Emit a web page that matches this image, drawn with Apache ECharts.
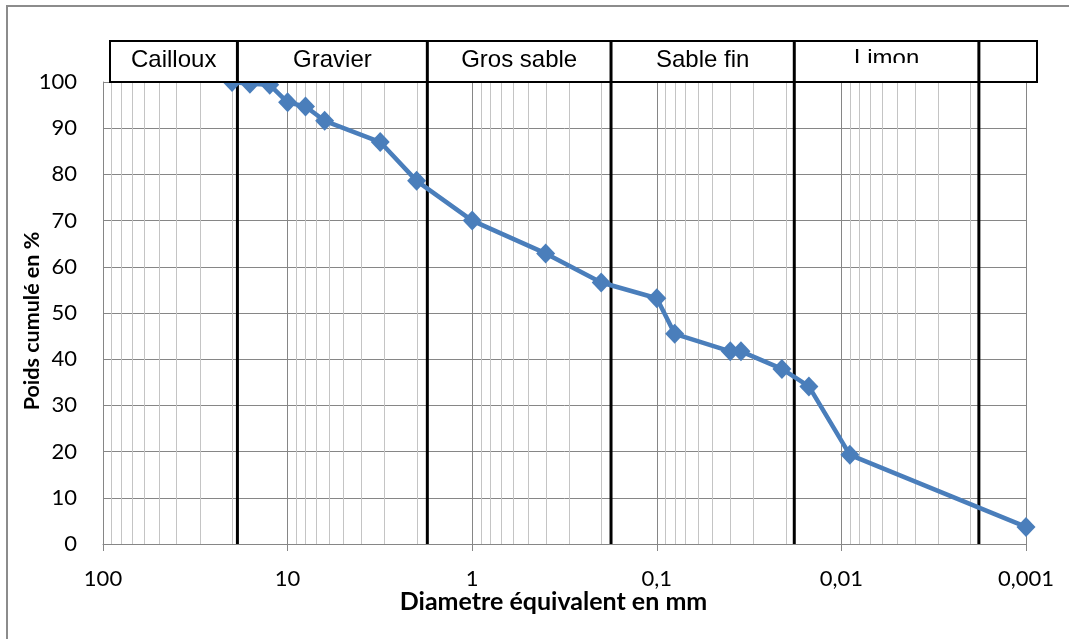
<!DOCTYPE html>
<html>
<head>
<meta charset="utf-8">
<script src="https://cdn.jsdelivr.net/npm/echarts@6/dist/echarts.min.js"></script>
<style>
  html, body { margin: 0; padding: 0; background: #ffffff; }
  #chart { width: 1069px; height: 639px; }
</style>
</head>
<body>
<div id="chart"></div>
<script>
// Grain-size curve: equivalent diameter (mm) vs cumulative weight (%)
const diameters = [20, 16, 12.5, 10, 8, 6.3, 3.15, 2, 1, 0.4, 0.2, 0.1, 0.08, 0.04, 0.035, 0.021, 0.015, 0.009, 0.001];
const cumulative = [100, 99.6, 99.4, 95.6, 94.7, 91.6, 87.0, 78.6, 70.0, 62.9, 56.6, 53.2, 45.5, 41.7, 41.7, 37.9, 34.1, 19.3, 3.7];

// Soil classes and the diameters separating them (mm)
const classNames = ['Cailloux', 'Gravier', 'Gros sable', 'Sable fin', 'Limon', ''];
const classBounds = [18.7, 1.75, 0.177, 0.018, 0.0018];

// Axis ranges and tick labels
const xMin = 0.001, xMax = 100;
const xTickLabels = { '2': '100', '1': '10', '0': '1', '-1': '0,1', '-2': '0,01', '-3': '0,001' };
const yMin = 0, yMax = 100, yStep = 10;

// Intermediate log-grid multipliers inside each decade
const minorMultipliers = [2, 3, 4, 5, 6, 7, 8, 9];
const decadeStarts = [0.001, 0.01, 0.1, 1, 10];

const chart = echarts.init(document.getElementById('chart'), null, { renderer: 'canvas' });

const GRID = { left: 103, right: 43, top: 82, bottom: 95 };
const tickFont = 'Lato, "Open Sans", sans-serif';

chart.setOption({
  animation: false,
  backgroundColor: '#ffffff',
  grid: GRID,
  xAxis: {
    type: 'log',
    logBase: 10,
    min: xMin,
    max: xMax,
    inverse: true,
    name: 'Diametre équivalent en mm',
    nameLocation: 'middle',
    nameGap: 45,
    nameMoveOverlap: false,
    nameTextStyle: { fontFamily: tickFont, fontWeight: 'bold', fontSize: 25, color: '#000', padding: [0, 22, 0, 0] },
    axisLine: { show: true, lineStyle: { color: '#868686', width: 1 } },
    axisTick: { show: true, length: 7, lineStyle: { color: '#868686' } },
    axisLabel: {
      margin: 24,
      fontFamily: tickFont, fontSize: 22, color: '#000',
      formatter: v => xTickLabels[String(Math.round(Math.log10(v)))] || ''
    },
    splitLine: { show: true, lineStyle: { color: '#868686', width: 1 } }
  },
  yAxis: {
    type: 'value',
    min: yMin, max: yMax, interval: yStep,
    name: 'Poids cumulé en %',
    nameLocation: 'middle',
    nameGap: 60,
    nameMoveOverlap: false,
    nameRotate: 90,
    nameTextStyle: { fontFamily: tickFont, fontWeight: 'bold', fontSize: 21.5, color: '#000', padding: [0, 16, 0, 0] },
    axisLine: { show: true, lineStyle: { color: '#868686', width: 1 } },
    axisTick: { show: false },
    axisLabel: { margin: 26, fontFamily: tickFont, fontSize: 22, color: '#000' },
    splitLine: { show: true, lineStyle: { color: '#868686', width: 1 } }
  },
  series: [
    {
      name: 'Poids cumulé',
      type: 'line',
      z: 5,
      data: diameters.map((d, i) => [d, cumulative[i]]),
      symbol: 'diamond',
      symbolSize: [19, 20],
      itemStyle: { color: '#4a7ebb' },
      lineStyle: { color: '#4a7ebb', width: 4.5 },
      emphasis: { disabled: true }
    }
  ]
});

// Pixel helpers through the chart's own axes
const px = v => chart.convertToPixel({ xAxisIndex: 0 }, v);
const py = v => chart.convertToPixel({ yAxisIndex: 0 }, v);
const yTop = py(yMax), yBottom = py(yMin);

// Header band with the class names, aligned to the class boundaries
const headerTop = 41, headerBottom = 82, headerLeft = 110, headerRight = 1037;
const bx = classBounds.map(px);
const edges = [headerLeft].concat(bx, [headerRight]);

const graphics = [
  { type: 'rect', shape: { x: 7, y: 6, width: 1070, height: 640 }, style: { fill: null, stroke: '#8c8c8c', lineWidth: 2 }, silent: true, z: 0 }
];

// light log-grid lines inside each decade
decadeStarts.forEach(d => minorMultipliers.forEach(m => {
  const x = Math.round(px(d * m)) + 0.5;
  graphics.push({ type: 'line', silent: true, z: 1,
    shape: { x1: x, y1: yTop, x2: x, y2: yBottom },
    style: { stroke: '#c4c4c4', lineWidth: 1 } });
}));

// header frame
graphics.push({ type: 'rect', silent: true, z: 10,
  shape: { x: headerLeft, y: headerTop, width: headerRight - headerLeft, height: headerBottom - headerTop },
  style: { fill: '#ffffff', stroke: '#000000', lineWidth: 2 } });

// class boundaries, from the header top down to the x axis
bx.forEach(x => {
  graphics.push({ type: 'line', silent: true, z: 3,
    shape: { x1: x, y1: headerTop, x2: x, y2: yBottom },
    style: { stroke: '#000', lineWidth: 3 } });
  graphics.push({ type: 'line', silent: true, z: 11,
    shape: { x1: x, y1: headerTop, x2: x, y2: headerBottom + 1 },
    style: { stroke: '#000', lineWidth: 3 } });
});

classNames.forEach((name, i) => {
  if (!name) return;
  const cx = (edges[i] + edges[i + 1]) / 2;
  const clipped = name === 'Limon';
  graphics.push({
    type: 'text', silent: true, z: 12,
    style: {
      x: cx, y: clipped ? 59 : 60, text: name,
      textAlign: 'center', textVerticalAlign: 'middle',
      font: '24px "Liberation Sans", Arial, sans-serif', fill: '#000'
    }
  });
  if (clipped) {
    graphics.push({ type: 'rect', silent: true, z: 13,
      shape: { x: edges[i] + 3, y: 63, width: edges[i + 1] - edges[i] - 6, height: headerBottom - 64 },
      style: { fill: '#ffffff' } });
  }
});

chart.setOption({ graphic: graphics });
</script>
</body>
</html>
